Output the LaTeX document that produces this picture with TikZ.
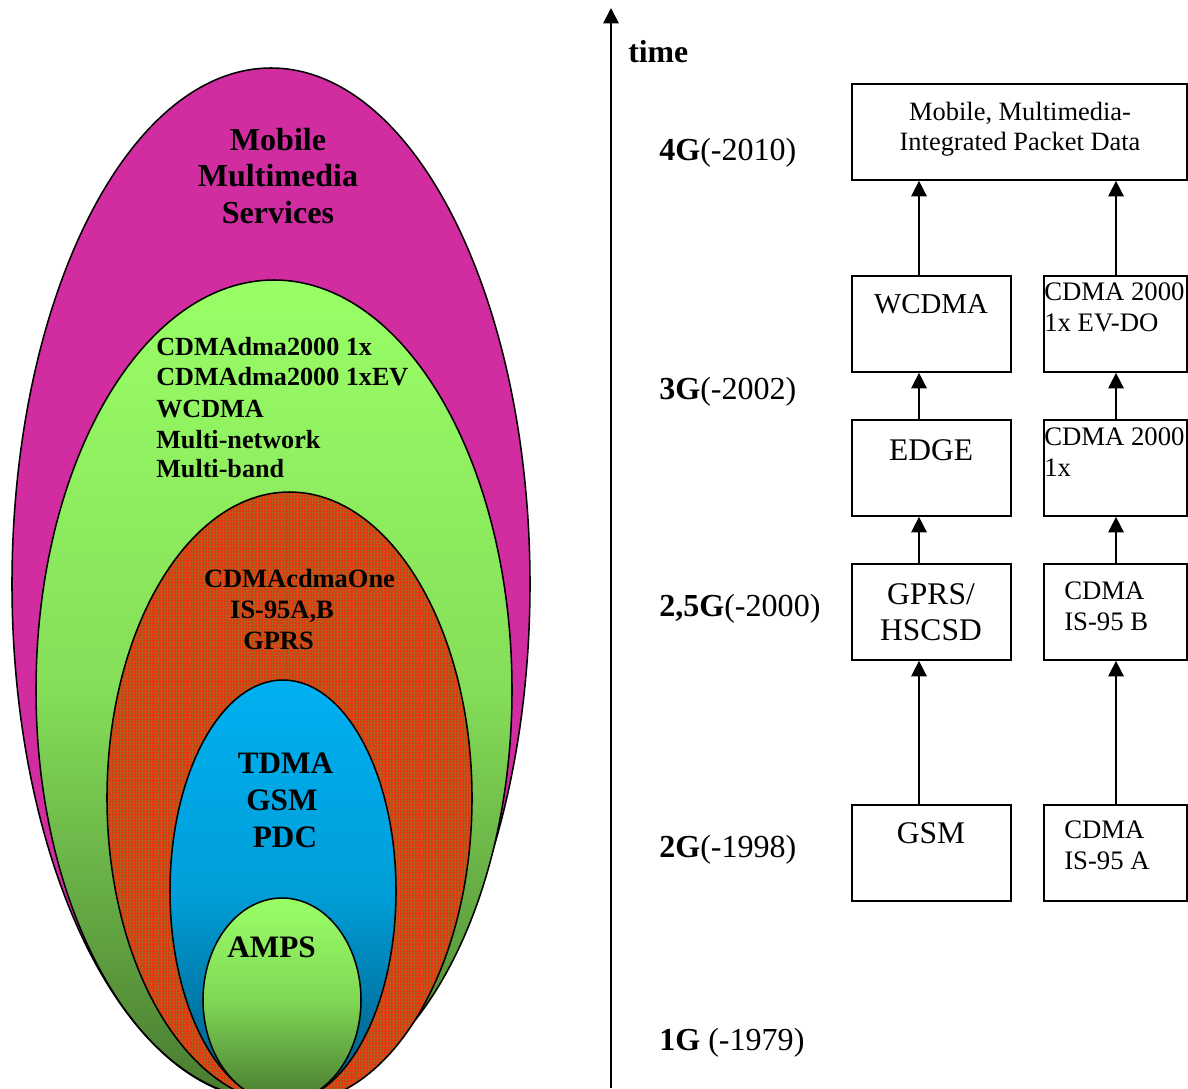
\documentclass[tikz,border=0pt]{standalone}
\usepackage{fontspec}
\setmainfont{Liberation Serif}
\usetikzlibrary{arrows.meta,patterns.meta}
\definecolor{magfill}{RGB}{210,45,160}
\definecolor{lgreen}{RGB}{153,255,102}
\definecolor{dgreen}{RGB}{72,122,48}
\definecolor{redfill}{RGB}{232,50,16}
\definecolor{gridcol}{RGB}{175,95,30}
\definecolor{lblue}{RGB}{0,176,240}
\definecolor{dblue}{RGB}{0,88,125}
\newcommand\myfs[1]{\fontsize{#1}{#1}\selectfont}
\begin{document}
\begin{tikzpicture}[x=0.025cm,y=-0.025cm,
  outl/.style={draw=black, line width=1.1pt},
  eA/.style={inner sep=0pt, anchor=base, font=\bfseries\myfs{22.8pt}},
  eB/.style={inner sep=0pt, anchor=base west, font=\bfseries\myfs{18.6pt}},
  eC/.style={inner sep=0pt, anchor=base, font=\bfseries\myfs{18.8pt}},
  eD/.style={inner sep=0pt, anchor=base, font=\bfseries\myfs{22.2pt}},
  yr/.style={inner sep=0pt, anchor=base west, font=\myfs{22.8pt}},
  lbox/.style={draw, line width=1.3pt, anchor=north west, inner sep=0pt, minimum width=3.975cm, minimum height=2.4cm},
  rbox/.style={draw, line width=1.3pt, anchor=north west, inner sep=0pt, minimum width=3.575cm, minimum height=2.4cm},
  ltxt/.style={inner sep=0pt, anchor=base, font=\myfs{22.4pt}},
  rtxt/.style={inner sep=0pt, anchor=base west, font=\myfs{19pt}},
  ttxt/.style={inner sep=0pt, anchor=base, font=\myfs{18.8pt}},
  arr/.style={line width=1.1pt, -{Triangle[width=11pt,length=11pt]}}
]
\useasboundingbox (0,0) rectangle (1188,1088);

% ---------- nested ellipses ----------
\begin{scope}
\clip (0,0) rectangle (1188,1088);
\filldraw[outl, fill=magfill] (271,584) ellipse [x radius=259, y radius=516];
\shadedraw[outl, top color=lgreen, bottom color=dgreen, middle color=lgreen!75!dgreen] (274,690) ellipse [x radius=238, y radius=410];
\fill[redfill] (289.5,798) ellipse [x radius=182.5, y radius=306];
\fill[pattern={Hatch[angle=0,distance=2.2pt,line width=0.25pt]}, pattern color=gridcol] (289.5,798) ellipse [x radius=182.5, y radius=306];
\draw[outl] (289.5,798) ellipse [x radius=182.5, y radius=306];
\shadedraw[outl, top color=lblue, bottom color=dblue, middle color=lblue!80!dblue] (283,891) ellipse [x radius=113, y radius=211];
\shadedraw[outl, top color=lgreen, bottom color=dgreen, middle color=lgreen!70!dgreen] (282,1000) ellipse [x radius=79, y radius=102];
\end{scope}

% ---------- ellipse texts ----------
\node[eA] (m1) at (278,150) {Mobile};
\node[eA] (m2) at (278,186) {Multimedia};
\node[eA] (m3) at (278,223) {Services};

\node[eB] (g1) at (156,355) {CDMAdma2000 1x};
\node[eB] (g2) at (156,385) {CDMAdma2000 1xEV};
\node[eB] (g3) at (156,417) {WCDMA};
\node[eB] (g4) at (156,448) {Multi-network};
\node[eB] (g5) at (156,477) {Multi-band};

\node[eC] (r1) at (299.5,587) {CDMAcdmaOne};
\node[eC] (r2) at (282,618) {IS-95A,B};
\node[eC] (r3) at (278.5,649) {GPRS};

\node[eD] (b1) at (285.5,773) {TDMA};
\node[eD] (b2) at (282,810) {GSM};
\node[eD] (b3) at (285,847) {PDC};

\node[eD] (a1) at (271.5,957) {AMPS};

% ---------- time axis ----------
\coordinate (tbot) at (611,1088);
\coordinate (ttop) at (611,8);
\draw[line width=1.3pt, -{Triangle[width=11pt,length=11pt]}] (tbot) -- (ttop);
\node[inner sep=0pt, anchor=base west, font=\bfseries\myfs{22.6pt}] (time) at (628,62) {time};

\node[yr] (y4) at (659,160) {\textbf{4G}(-2010)};
\node[yr] (y3) at (659,399) {\textbf{3G}(-2002)};
\node[yr] (y25) at (659,616.5) {\textbf{2,5G}(-2000)};
\node[yr] (y2) at (659,857) {\textbf{2G}(-1998)};
\node[yr] (y1) at (659,1050) {\textbf{1G} (-1979)};

% ---------- boxes ----------
\node[draw, line width=1.3pt, anchor=north west, inner sep=0pt, minimum width=8.375cm, minimum height=2.4cm] (top) at (851,83) {};
\node[ttxt] (top1) at (1020,120) {Mobile, Multimedia-};
\node[ttxt] (top2) at (1020,150) {Integrated Packet Data};

\node[lbox] (wcdma) at (851,275) {};
\node[inner sep=0pt, anchor=base, font=\myfs{20.5pt}] (wcdmat) at (931,313) {WCDMA};
\node[rbox] (evdo) at (1043,275) {};
\node[rtxt] (evdo1) at (1044,300) {CDMA 2000};
\node[rtxt] (evdo2) at (1044,331.5) {1x EV-DO};

\node[lbox] (edge) at (851,419) {};
\node[ltxt] (edget) at (931,460) {EDGE};
\node[rbox] (onex) at (1043,419) {};
\node[rtxt] (onex1) at (1044,445) {CDMA 2000};
\node[rtxt] (onex2) at (1044,476) {1x};

\node[lbox] (gprs) at (851,563) {};
\node[ltxt] (gprs1) at (931,604) {GPRS/};
\node[ltxt] (gprs2) at (931,640) {HSCSD};
\node[rbox] (isb) at (1043,563) {};
\node[rtxt] (isb1) at (1064,599) {CDMA};
\node[rtxt] (isb2) at (1064,630) {IS-95 B};

\node[lbox] (gsm) at (851,804) {};
\node[ltxt] (gsmt) at (931,843) {GSM};
\node[rbox] (isa) at (1043,804) {};
\node[rtxt] (isa1) at (1064,838) {CDMA};
\node[rtxt] (isa2) at (1064,869) {IS-95 A};

% ---------- arrows ----------
\coordinate (colL) at (919,0);
\coordinate (colR) at (1116,0);
\draw[arr] (gsm.north -| colL) -- (gprs.south -| colL);
\draw[arr] (gprs.north -| colL) -- (edge.south -| colL);
\draw[arr] (edge.north -| colL) -- (wcdma.south -| colL);
\draw[arr] (wcdma.north -| colL) -- (top.south -| colL);
\draw[arr] (isa.north -| colR) -- (isb.south -| colR);
\draw[arr] (isb.north -| colR) -- (onex.south -| colR);
\draw[arr] (onex.north -| colR) -- (evdo.south -| colR);
\draw[arr] (evdo.north -| colR) -- (top.south -| colR);
\end{tikzpicture}
\end{document}
